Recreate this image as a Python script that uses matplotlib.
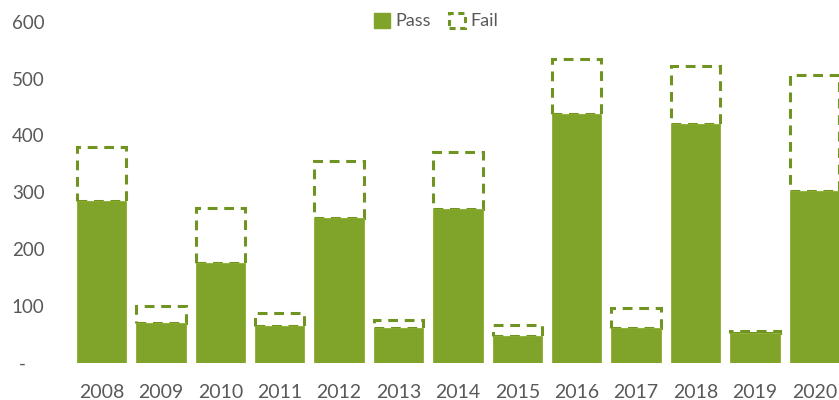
import matplotlib.pyplot as plt
from matplotlib.patches import Patch
import numpy as np

years = ["2008", "2009", "2010", "2011", "2012", "2013", "2014",
         "2015", "2016", "2017", "2018", "2019", "2020"]
passed = [284, 70, 175, 65, 255, 61, 270, 48, 437, 61, 420, 53, 302]
failed = [96, 30, 98, 23, 100, 15, 100, 19, 98, 35, 102, 3, 204]

y_ticks = [0, 100, 200, 300, 400, 500, 600]
y_tick_labels = ["-    ", "100", "200", "300", "400", "500", "600"]

fill_green = "#80a42a"
edge_green = "#6f9422"
text_grey = "#595959"

plt.rcParams["font.family"] = ["Lato", "DejaVu Sans"]

W, H = 839, 400
fig = plt.figure(figsize=(W / 100, H / 100), dpi=100)
ax = fig.add_axes([50 / W, 37 / H, 1 - 50 / W, 1 - 37 / H])

x = np.arange(len(years))
width = 0.83

# Fail segment: outline only, dashed, stacked on the pass segment
ax.bar(x, failed, width, bottom=passed, facecolor="none",
       edgecolor=edge_green, linewidth=2.2, linestyle=(0, (3.2, 2.2)),
       zorder=2)
# Pass segment: solid fill drawn over the lower edge of the outline
ax.bar(x, passed, width, color=fill_green, edgecolor="#8cae2e",
       linewidth=0.6, zorder=3)

ax.set_xlim(-0.867, 12.416)
ax.set_ylim(0, 638)

ax.set_yticks(y_ticks)
ax.set_yticklabels(y_tick_labels)
ax.set_xticks(x)
ax.set_xticklabels(years)
ax.tick_params(axis="both", length=0, colors=text_grey)
ax.tick_params(axis="x", pad=15, labelsize=14)
ax.tick_params(axis="y", pad=4, labelsize=13.5)

for s in ax.spines.values():
    s.set_visible(False)

handles = [
    Patch(facecolor=fill_green, edgecolor=fill_green, label="Pass"),
    Patch(facecolor="none", edgecolor=edge_green, linewidth=2.2,
          linestyle=(0, (2, 1.5)), label="Fail"),
]
fig.legend(handles=handles, loc="center", bbox_to_anchor=(436 / W, 1 - 21 / H),
           ncol=2, frameon=False, fontsize=13, labelcolor=text_grey,
           handlelength=0.9, handleheight=0.9, handletextpad=0.3,
           columnspacing=1.0)

fig.savefig("out.png", dpi=100)
